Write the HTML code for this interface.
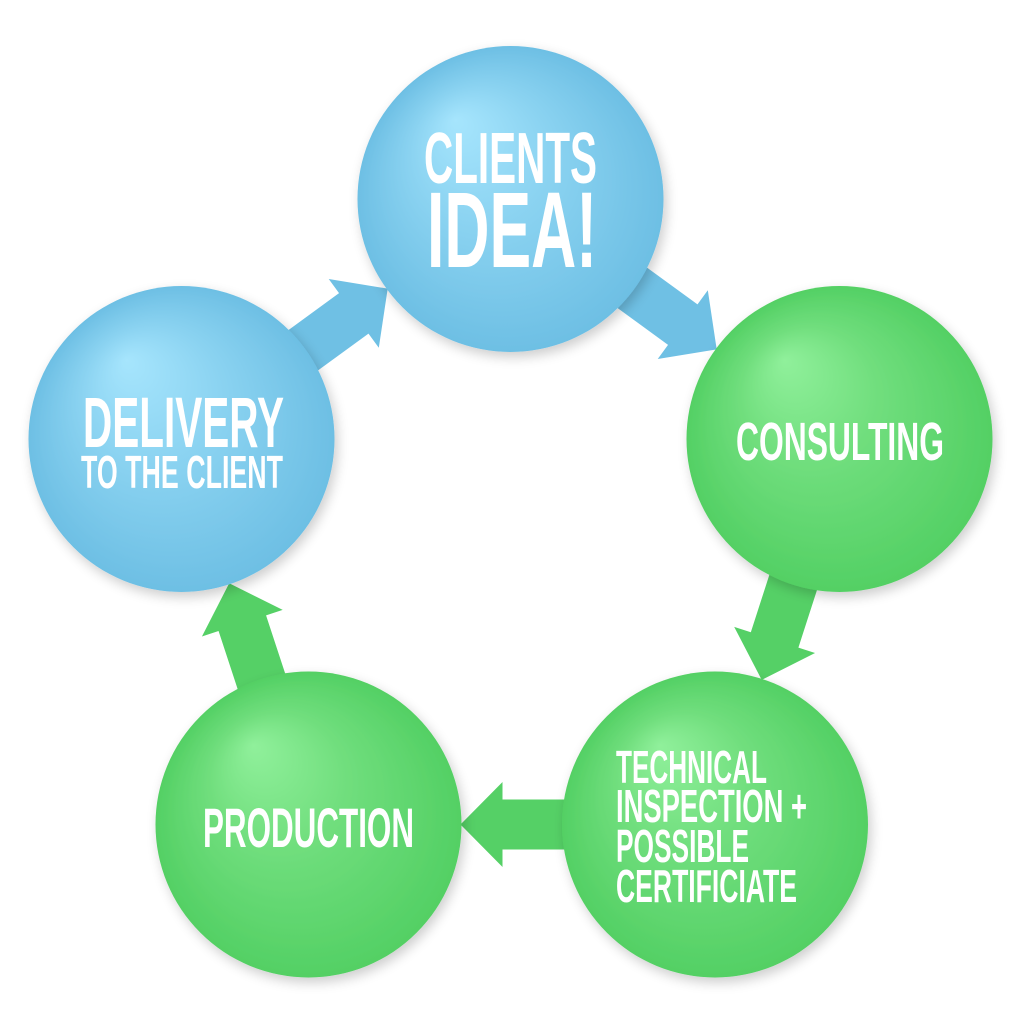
<!DOCTYPE html>
<html>
<head>
<meta charset="utf-8">
<style>
  html, body { margin: 0; padding: 0; background: #ffffff; }
  body { width: 1024px; height: 1024px; overflow: hidden; }
  svg { display: block; }
  .t { fill: #ffffff; font-family: "Liberation Sans Narrow", "Liberation Sans", sans-serif; font-weight: bold; }
</style>
</head>
<body>
<svg width="1024" height="1024" viewBox="0 0 1024 1024" xmlns="http://www.w3.org/2000/svg">
  <defs>
    <radialGradient id="gb" cx="0.5" cy="0.5" r="0.5" fx="0.32" fy="0.24">
      <stop offset="0" stop-color="#a6e5fd"/>
      <stop offset="0.45" stop-color="#8bd3f1"/>
      <stop offset="1" stop-color="#6dbfe4"/>
    </radialGradient>
    <radialGradient id="gg" cx="0.5" cy="0.5" r="0.5" fx="0.32" fy="0.24">
      <stop offset="0" stop-color="#90f09b"/>
      <stop offset="0.45" stop-color="#70de7d"/>
      <stop offset="1" stop-color="#53d064"/>
    </radialGradient>
    <filter id="sh" x="-20%" y="-20%" width="140%" height="140%">
      <feGaussianBlur in="SourceAlpha" stdDeviation="6"/>
      <feOffset dx="3" dy="5" result="b"/>
      <feComponentTransfer><feFuncA type="linear" slope="0.2"/></feComponentTransfer>
      <feMerge><feMergeNode/><feMergeNode in="SourceGraphic"/></feMerge>
    </filter>
  </defs>

  <!-- Arrows -->
  <g transform="translate(510.5,199) rotate(36.1)">
    <polygon fill="#6fc0e4" points="0,-25 213.2,-25 213.2,-42.5 255.2,0 213.2,42.5 213.2,25 0,25"/>
  </g>
  <g transform="translate(839.5,439) rotate(107.9)">
    <polygon fill="#55d066" points="0,-25 211.1,-25 211.1,-42.5 253.1,0 211.1,42.5 211.1,25 0,25"/>
  </g>
  <g transform="translate(715,824.5) rotate(180)">
    <polygon fill="#55d066" points="0,-25 212.5,-25 212.5,-42.5 254.5,0 212.5,42.5 212.5,25 0,25"/>
  </g>
  <g transform="translate(308.5,824.5) rotate(-108.2)">
    <polygon fill="#55d066" points="0,-25 211.9,-25 211.9,-42.5 253.9,0 211.9,42.5 211.9,25 0,25"/>
  </g>
  <g transform="translate(181.5,439) rotate(-36.1)">
    <polygon fill="#6fc0e4" points="0,-25 213.2,-25 213.2,-42.5 255.2,0 213.2,42.5 213.2,25 0,25"/>
  </g>

  <!-- Circles -->
  <circle cx="510.5" cy="199" r="153" fill="url(#gb)" filter="url(#sh)"/>
  <circle cx="839.5" cy="439" r="153" fill="url(#gg)" filter="url(#sh)"/>
  <circle cx="715" cy="824.5" r="153" fill="url(#gg)" filter="url(#sh)"/>
  <circle cx="308.5" cy="824.5" r="153" fill="url(#gg)" filter="url(#sh)"/>
  <circle cx="181.5" cy="439" r="153" fill="url(#gb)" filter="url(#sh)"/>

  <!-- Labels -->
  <text class="t" x="424" y="183" font-size="72" textLength="173" lengthAdjust="spacingAndGlyphs">CLIENTS</text>
  <text class="t" x="427" y="267" font-size="108" textLength="170" lengthAdjust="spacingAndGlyphs">IDEA!</text>

  <text class="t" x="736" y="460" font-size="54" textLength="208" lengthAdjust="spacingAndGlyphs">CONSULTING</text>

  <text class="t" x="616" y="783" font-size="46" textLength="151" lengthAdjust="spacingAndGlyphs">TECHNICAL</text>
  <text class="t" x="616" y="822" font-size="46" textLength="191" lengthAdjust="spacingAndGlyphs">INSPECTION +</text>
  <text class="t" x="616" y="862" font-size="46" textLength="133" lengthAdjust="spacingAndGlyphs">POSSIBLE</text>
  <text class="t" x="616" y="902" font-size="46" textLength="181" lengthAdjust="spacingAndGlyphs">CERTIFICIATE</text>

  <text class="t" x="203" y="847" font-size="56" textLength="211" lengthAdjust="spacingAndGlyphs">PRODUCTION</text>

  <text class="t" x="83" y="447" font-size="71" textLength="201" lengthAdjust="spacingAndGlyphs">DELIVERY</text>
  <text class="t" x="81" y="488" font-size="46" textLength="202" lengthAdjust="spacingAndGlyphs">TO THE CLIENT</text>
</svg>
</body>
</html>
